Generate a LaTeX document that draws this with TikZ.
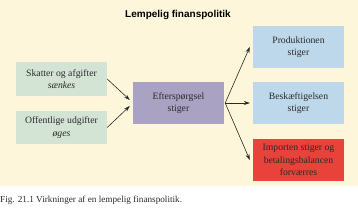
\documentclass[tikz,border=0pt]{standalone}
\usepackage{fontspec}
\setmainfont{Liberation Serif}
\setsansfont{Liberation Sans}
\usepackage{xcolor}
\definecolor{cream}{HTML}{FDF6DA}
\definecolor{sage}{HTML}{D3E3D4}
\definecolor{lavender}{HTML}{A9A2C3}
\definecolor{skyblue}{HTML}{BDD8EA}
\definecolor{alarm}{HTML}{E8423A}
\definecolor{ink}{HTML}{2A2A2A}
\usetikzlibrary{arrows.meta, positioning}

\begin{document}
\begin{tikzpicture}[x=1pt, y=-1pt,
    box/.style={minimum width=91pt, minimum height=42pt, align=center, inner sep=1pt,
      font=\fontsize{9.7}{12.5}\selectfont, text=ink},
    link/.style={-{Stealth[length=6pt, width=4pt]}, ink, line width=0.6pt}]
  \useasboundingbox (0,0) rectangle (358,211);
  \fill[cream] (0,0) rectangle (358,186);

  \node[font=\sffamily\bfseries\fontsize{10}{12}\selectfont] (title) at (178,15) {Lempelig finanspolitik};

  % venstre side
  \node[box, fill=sage, minimum height=34pt] (skat) at (61.5,79) {Skatter og afgifter\\\textit{sænkes}};
  \node[box, fill=sage, minimum height=33pt] (offudg) at (61.5,127.5) {Offentlige udgifter\\\textit{øges}};

  % midten
  \node[box, fill=lavender] (eftersp) at (178.5,103) {Efterspørgsel\\stiger};

  % højre side
  \node[box, fill=skyblue] (prod) at (298.5,47) {Produktionen\\stiger};
  \node[box, fill=skyblue] (besk) at (298.5,103) {Beskæftigelsen\\stiger};
  \node[box, fill=alarm] (import) at (298.5,160) {Importen stiger og\\betalingsbalancen\\forværres};

  \draw[link] (skat.east) -- ([xshift=-3pt, yshift=3pt]eftersp.west);
  \draw[link] (offudg.east) -- ([xshift=-3pt, yshift=-3pt]eftersp.west);
  \draw[link] ([xshift=1pt]eftersp.east) -- ([xshift=-3pt]prod.west);
  \draw[link] ([xshift=1pt]eftersp.east) -- ([xshift=-3pt]besk.west);
  \draw[link] ([xshift=1pt]eftersp.east) -- ([xshift=-3pt]import.west);

  \node[anchor=west, inner sep=0pt, font=\fontsize{9.2}{11}\selectfont, text=ink] (caption) at (0,200)
    {Fig. 21.1 Virkninger af en lempelig finanspolitik.};
\end{tikzpicture}
\end{document}
